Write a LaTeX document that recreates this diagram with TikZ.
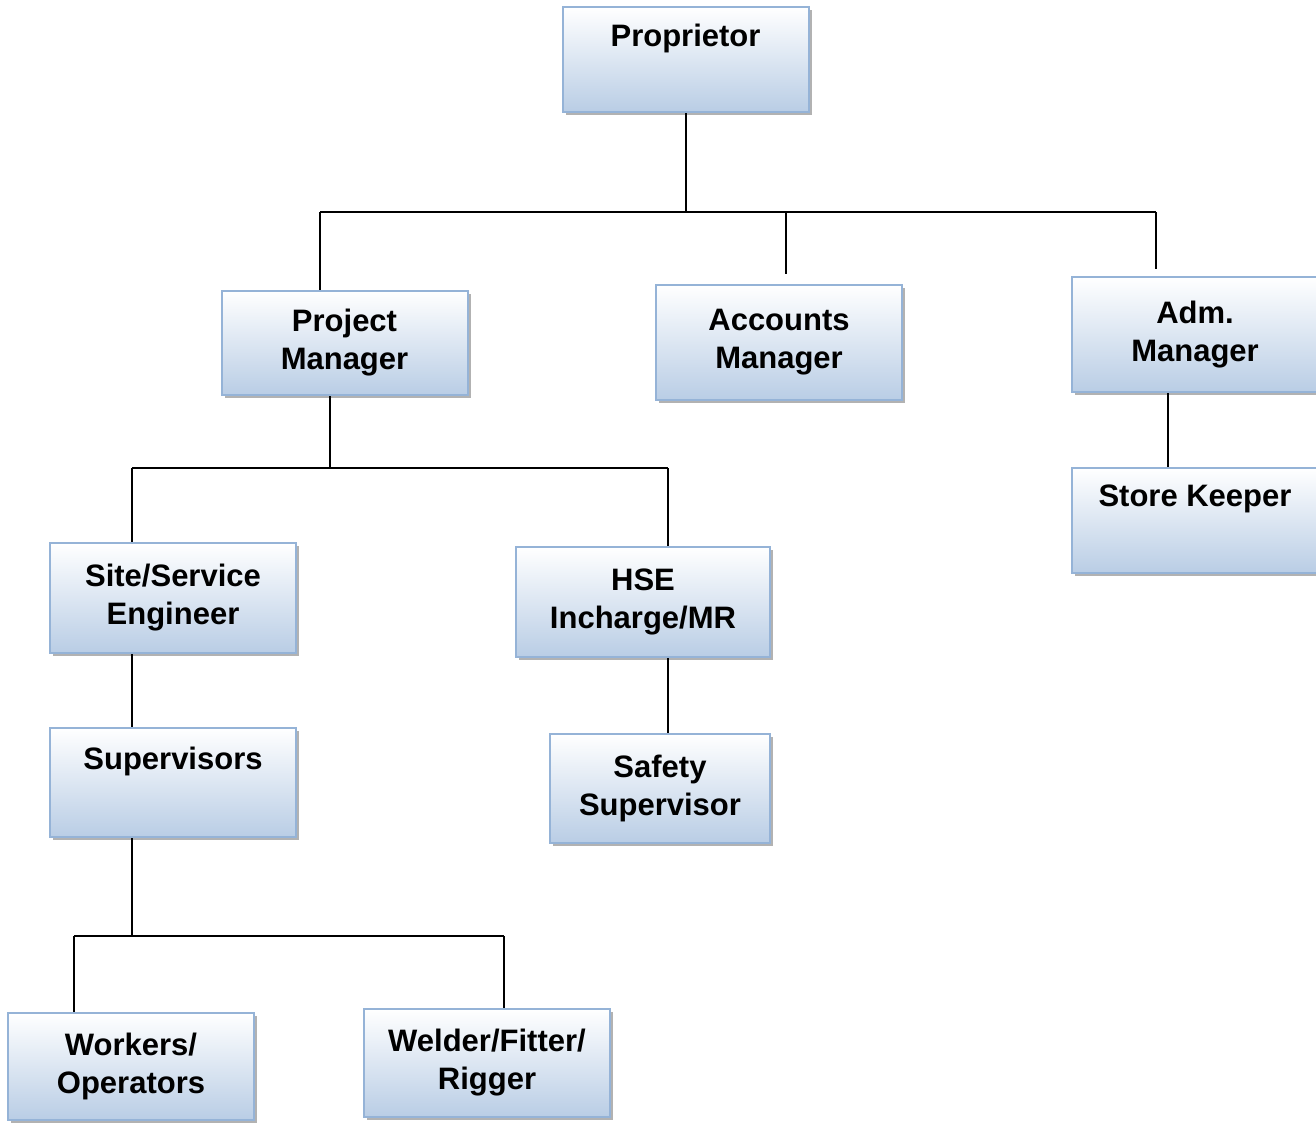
\documentclass[tikz,border=0pt]{standalone}
\usepackage{fontspec}
\setmainfont{Liberation Sans}
\usetikzlibrary{shadows}
\definecolor{boxedge}{HTML}{95B3D7}
\definecolor{boxfill}{HTML}{B9CDE5}
\tikzset{
  orgbox/.style={draw=boxedge, line width=1pt, top color=white, bottom color=boxfill,
    drop shadow={shadow xshift=1.5pt, shadow yshift=-1.5pt, fill=black!60, opacity=0.5},
    align=center, inner sep=0pt, minimum width=123pt,
    font=\fontsize{15.5}{19}\selectfont\bfseries},
  link/.style={line width=1pt}
}
\begin{document}
\begin{tikzpicture}[x=0.5pt, y=-0.5pt]
  \useasboundingbox (0,0) rectangle (1316,1124);
  % boxes
  \node[orgbox, minimum height=52.5pt] (prop) at (685.5,59.5) {Proprietor\\\strut};
  \node[orgbox, minimum height=52pt] (pm) at (344.5,343) {Project\\Manager};
  \node[orgbox, minimum height=57.5pt] (acc) at (779,342.5) {Accounts\\Manager};
  \node[orgbox, minimum height=57.5pt] (adm) at (1195,334.5) {Adm.\\Manager};
  \node[orgbox, minimum height=52.5pt] (store) at (1195,520.5) {Store Keeper\\\strut};
  \node[orgbox, minimum height=55pt] (site) at (173,598) {Site/Service\\Engineer};
  \node[orgbox, minimum height=55pt, minimum width=127pt] (hse) at (643,602) {HSE\\Incharge/MR};
  \node[orgbox, minimum height=54.5pt] (sup) at (173,782.5) {Supervisors\\\strut};
  \node[orgbox, minimum height=54.5pt, minimum width=110pt] (safety) at (660,788.5) {Safety\\Supervisor};
  \node[orgbox, minimum height=53.5pt] (work) at (131,1066.5) {Workers/\\Operators};
  \node[orgbox, minimum height=54pt] (weld) at (487,1063) {Welder/Fitter/\\Rigger};
  % bus lines
  \coordinate (b1l) at (320,212); \coordinate (b1m) at (786,212); \coordinate (b1r) at (1156,212);
  \coordinate (b2l) at (132,468); \coordinate (b2m) at (330,468); \coordinate (b2r) at (668,468);
  \coordinate (b3l) at (74,936); \coordinate (b3m) at (132,936); \coordinate (b3r) at (504,936);
  \draw[link] (prop.south) -- (prop.south |- b1l);
  \draw[link] (b1l) -- (b1r);
  \draw[link] (b1l) -- (b1l |- pm.north);
  \draw[link, shorten >=5pt] (b1m) -- (b1m |- acc.north);
  \draw[link, shorten >=3.5pt] (b1r) -- (b1r |- adm.north);
  \draw[link] ([xshift=-13.5pt]adm.south) -- ([xshift=-13.5pt]store.north);
  \draw[link] (pm.south -| b2m) -- (b2m);
  \draw[link] (b2l) -- (b2r);
  \draw[link] (b2l) -- (b2l |- site.north);
  \draw[link] (b2r) -- (b2r |- hse.north);
  \draw[link] (hse.south -| b2r) -- (safety.north -| b2r);
  \draw[link] (site.south -| b3m) -- (sup.north -| b3m);
  \draw[link] (sup.south -| b3m) -- (b3m);
  \draw[link] (b3l) -- (b3r);
  \draw[link] (b3l) -- (b3l |- work.north);
  \draw[link] (b3r) -- (b3r |- weld.north);
\end{tikzpicture}
\end{document}
